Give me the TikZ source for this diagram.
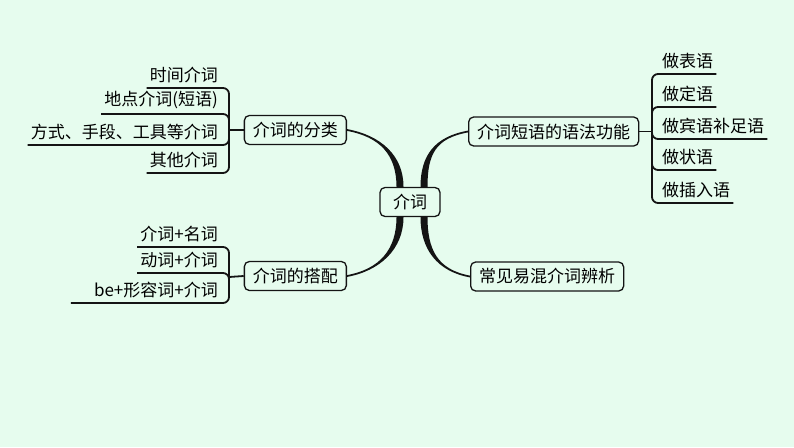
\documentclass[tikz,border=0pt]{standalone}
\usepackage{fontspec}
\setmainfont{Noto Sans CJK SC}
\usepackage{tikz}
\usetikzlibrary{positioning,calc}
\definecolor{mbg}{RGB}{230,252,238}
\definecolor{mink}{RGB}{20,20,20}
% tapered main branch: start, end, two control vectors, end offsets
\newcommand{\mmtaper}[6]{%
  \fill[mink] ([xshift=-3.5pt]#1) .. controls +#3 and +#4 .. ([yshift=#5]#2)
    -- ([yshift=#6]#2) .. controls +#4 and +#3 .. ([xshift=3.5pt]#1) -- cycle;}

\begin{document}
\begin{tikzpicture}[
  x=1pt, y=-1pt, font=\fontsize{17}{20}\selectfont,
  mbox/.style={draw=mink, line width=1.3pt, rounded corners=5pt, fill=mbg,
               inner xsep=8.5pt, inner ysep=0pt, minimum height=29pt},
  mleaf/.style={inner xsep=3pt, inner ysep=4.5pt},
  mline/.style={draw=mink, line width=1.8pt, rounded corners=6pt},
]
  \fill[mbg] (0,0) rectangle (794,447);
  \useasboundingbox (0,0) rectangle (794,447);
  % 1. centre and main topics
  \node[mbox, minimum width=60pt] (root) at (410,202) {介词};
  \node[mbox, anchor=east] (cls) at (347,130) {介词的分类};
  \node[mbox, anchor=east] (col) at (347,276) {介词的搭配};
  \node[mbox, anchor=west] (fn) at (468,131.5) {介词短语的语法功能};
  \node[mbox, anchor=west] (mix) at (470,276.5) {常见易混介词辨析};
  % 2. main branches
  \coordinate (pA) at ([xshift=-10pt]root.north);
  \coordinate (pB) at ([xshift=14pt]root.north);
  \coordinate (pC) at ([xshift=-10pt]root.south);
  \coordinate (pD) at ([xshift=14pt]root.south);
  \mmtaper{pA}{cls.east}{(0,-32)}{(33,6)}{-0.9pt}{0.9pt}
  \mmtaper{pB}{fn.west}{(0,-32)}{(-33,6)}{0.9pt}{-0.9pt}
  \mmtaper{pC}{col.east}{(0,32)}{(33,-6)}{0.9pt}{-0.9pt}
  \mmtaper{pD}{mix.west}{(0,32)}{(-33,-6)}{-0.9pt}{0.9pt}
  % 3. kinds of prepositions
  \coordinate (jA) at (229,130);
  \node[mleaf, anchor=south east] (a1) at (221,88) {时间介词};
  \node[mleaf, anchor=south east] (a2) at (221,114) {地点介词(短语)};
  \node[mleaf, anchor=south east] (a3) at (221,145) {方式、手段、工具等介词};
  \node[mleaf, anchor=south east] (a4) at (221,173) {其他介词};
  \draw[mline] (jA) -- (cls.west);
  \foreach \l in {a1,a2,a3,a4} \draw[mline] (jA) |- (\l.south west);
  % 4. collocations
  \coordinate (jB) at (229,277);
  \node[mleaf, anchor=south east] (b1) at (221,247) {介词+名词};
  \node[mleaf, anchor=south east] (b2) at (221,273) {动词+介词};
  \node[mleaf, anchor=south east] (b3) at (221,303) {be+形容词+介词};
  \draw[mline] (jB) -- (col.west);
  \foreach \l in {b1,b2} \draw[mline] (jB) |- (\l.south west);
  \draw[mline] (jB) |- ([xshift=-20pt]b3.south west);
  % 5. functions of prepositional phrases
  \coordinate (jC) at (652,131.5);
  \node[mleaf, anchor=south west] (c1) at (659,74) {做表语};
  \node[mleaf, anchor=south west] (c2) at (659,107) {做定语};
  \node[mleaf, anchor=south west] (c3) at (659,139) {做宾语补足语};
  \node[mleaf, anchor=south west] (c4) at (659,170) {做状语};
  \node[mleaf, anchor=south west] (c5) at (659,203) {做插入语};
  \draw[mline] (fn.east) -- (jC);
  \foreach \l in {c1,c2,c3,c4,c5} \draw[mline] (jC) |- (\l.south east);
\end{tikzpicture}
\end{document}
